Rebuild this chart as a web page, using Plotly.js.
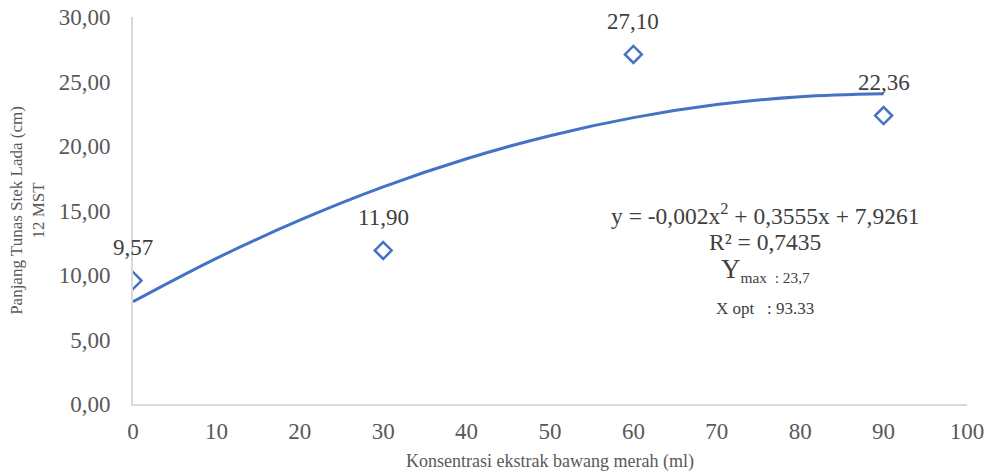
<!DOCTYPE html>
<html>
<head>
<meta charset="utf-8">
<script src="https://cdn.plot.ly/plotly-3.0.1.min.js"></script>
<style>html,body{margin:0;padding:0;background:#fff;}#chart{width:992px;height:476px;}</style>
</head>
<body>
<div id="chart"></div>
<script>
// Observed data
const xConc = [0, 30, 60, 90];
const yLen = [9.57, 11.90, 27.10, 22.36];
const pointLabels = ["9,57", "11,90", "27,10", "22,36"];
// Trendline values
const trendX = [0, 10, 20, 30, 40, 50, 60, 70, 80, 90];
const trendY = [7.93, 11.29, 14.25, 16.83, 19.01, 20.80, 22.20, 23.21, 23.82, 24.05];
// Axis ticks
const xTicks = [0, 10, 20, 30, 40, 50, 60, 70, 80, 90, 100];
const yTicks = [0, 5, 10, 15, 20, 25, 30];
const yTickText = ["0,00", "5,00", "10,00", "15,00", "20,00", "25,00", "30,00"];
// Equation box texts
const eqText = "y = -0,002x<sup>2</sup> + 0,3555x + 7,9261";
const r2Text = "R² = 0,7435";
const ymaxText = "<span style='font-size:27px'>Y</span><sub>max\u00a0\u00a0: 23,7</sub>";
const xoptText = "X opt\u00a0\u00a0\u00a0: 93.33";

const FONT = "Liberation Serif, Times New Roman, serif";
const BLUE = "#4472C4";
const GRAY = "#595959";
const DARK = "#404040";

const traces = [
  {
    x: trendX, y: trendY, type: "scatter", mode: "lines",
    line: {color: BLUE, width: 3, shape: "spline"}, hoverinfo: "skip"
  },
  {
    x: xConc, y: yLen, type: "scatter", mode: "markers",
    marker: {symbol: "diamond-open", size: 13, color: BLUE, line: {color: BLUE, width: 2.5}}
  }
];

const annotations = xConc.map((x, i) => ({
  x: x, y: yLen[i], xref: "x", yref: "y", text: pointLabels[i], showarrow: false,
  xanchor: "center", yanchor: "middle",
  yshift: 33, font: {family: FONT, size: 23, color: DARK}
}));
const boxX = 0.758;
annotations.push(
  {xref: "paper", yref: "paper", x: boxX, y: 0.492, xanchor: "center", yanchor: "middle", text: eqText, showarrow: false, font: {family: FONT, size: 23.5, color: DARK}},
  {xref: "paper", yref: "paper", x: boxX, y: 0.419, xanchor: "center", yanchor: "middle", text: r2Text, showarrow: false, font: {family: FONT, size: 23.5, color: DARK}},
  {xref: "paper", yref: "paper", x: boxX, y: 0.345, xanchor: "center", yanchor: "middle", text: ymaxText, showarrow: false, font: {family: FONT, size: 22, color: DARK}},
  {xref: "paper", yref: "paper", x: boxX, y: 0.248, xanchor: "center", yanchor: "middle", text: xoptText, showarrow: false, font: {family: FONT, size: 17, color: DARK}}
);

const layout = {
  width: 992, height: 476,
  margin: {l: 133, r: 25, t: 17, b: 72},
  paper_bgcolor: "#fff", plot_bgcolor: "#fff",
  showlegend: false,
  font: {family: FONT, color: GRAY},
  xaxis: {
    range: [0, 100], tickvals: xTicks, ticktext: xTicks.map(String),
    showgrid: false, zeroline: false, showline: true, linecolor: "#d9d9d9", linewidth: 2,
    ticks: "", tickfont: {family: FONT, size: 23, color: GRAY}, ticklabelstandoff: 5,
    title: {text: "Konsentrasi ekstrak bawang merah (ml)", font: {family: FONT, size: 18, color: GRAY}, standoff: 12}
  },
  yaxis: {
    range: [0, 30], tickvals: yTicks, ticktext: yTickText,
    showgrid: false, zeroline: false, showline: true, linecolor: "#d9d9d9", linewidth: 2,
    ticks: "", tickfont: {family: FONT, size: 23, color: GRAY}, ticklabelstandoff: 16,
    title: {text: "Panjang Tunas Stek Lada (cm)<br>12 MST", font: {family: FONT, size: 17, color: GRAY}, standoff: 10}
  },
  annotations: annotations
};

Plotly.newPlot("chart", traces, layout, {displayModeBar: false, staticPlot: true});
</script>
</body>
</html>
